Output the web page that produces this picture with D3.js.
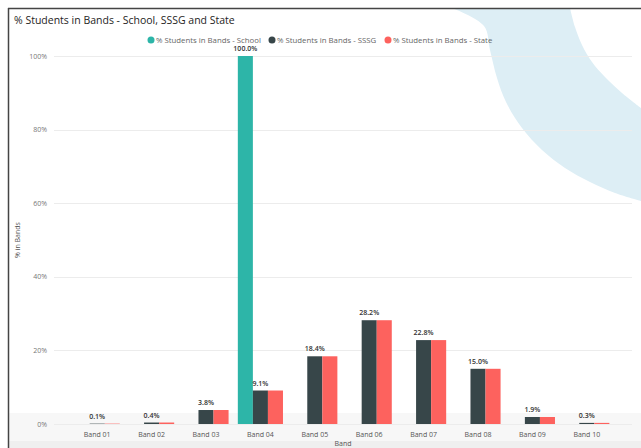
<!DOCTYPE html>
<html>
<head>
<meta charset="utf-8">
<script src="https://cdnjs.cloudflare.com/ajax/libs/d3/7.8.5/d3.min.js"></script>
<style>
    body { margin: 0; background: #fff; }
    svg { display: block; font-family: "Open Sans", "Noto Sans", sans-serif; }
</style>
</head>
<body>
<svg id="chart" width="641" height="448"></svg>
<script>

// Chart data
const bands = ["Band 01", "Band 02", "Band 03", "Band 04", "Band 05",
               "Band 06", "Band 07", "Band 08", "Band 09", "Band 10"];
const seriesNames = ["% Students in Bands - School", "% Students in Bands - SSSG", "% Students in Bands - State"];
const seriesColours = ["#2db5a8", "#374649", "#fd625e"];
const schoolValues = [0, 0, 0, 1.000, 0, 0, 0, 0, 0, 0];
const sssgValues = [0.001, 0.004, 0.038, 0.091, 0.184, 0.282, 0.228, 0.150, 0.019, 0.003];
const stateValues = [0.001, 0.004, 0.038, 0.091, 0.184, 0.282, 0.228, 0.150, 0.019, 0.003];
const yTicks = [0, 0.2, 0.4, 0.6, 0.8, 1.0];

const svg = d3.select("#chart");
const width = 641, height = 448;

// Background decoration (light blue sweep, top right)
const outerEdge = [[452, 8], [484, 26], [490, 50], [497, 78], [506, 102], [522, 128], [542, 150],
                   [565, 168], [590, 182], [615, 193], [641, 201]];
const innerEdge = [[641, 108], [622, 93], [605, 77], [592, 62], [582, 45], [575, 27], [570, 8]];
const edgeLine = d3.line().curve(d3.curveCatmullRom);
svg.append("path")
    .attr("d", edgeLine(outerEdge) + "L" + edgeLine(innerEdge).slice(1) + "Z")
    .attr("fill", "#ddeef5");

// Bottom strip
svg.append("rect").attr("x", 8).attr("y", 413).attr("width", width - 8).attr("height", 28).attr("fill", "#f7f7f7");
svg.append("rect").attr("x", 8).attr("y", 441).attr("width", width - 8).attr("height", 7).attr("fill", "#efefef");

// Frame
svg.append("line").attr("x1", 8).attr("x2", width).attr("y1", 8.5).attr("y2", 8.5)
    .attr("stroke", "#444").attr("stroke-width", 1.5);
svg.append("line").attr("x1", 8.5).attr("x2", 8.5).attr("y1", 8).attr("y2", height)
    .attr("stroke", "#444").attr("stroke-width", 1.5);

// Title
svg.append("text")
    .attr("x", 14).attr("y", 24)
    .attr("font-size", 10.5)
    .attr("fill", "#252423")
    .text("% Students in Bands - School, SSSG and State");

// Scales
const x = d3.scaleBand().domain(bands).range([70, 614]).paddingInner(0.17).paddingOuter(0.085);
const xSub = d3.scaleBand().domain(d3.range(3)).range([0, x.bandwidth()]);
const y = d3.scaleLinear().domain([0, 1]).range([424, 56]);

// Gridlines and y tick labels
const yAxis = svg.append("g");
yAxis.selectAll("line")
    .data(yTicks)
    .enter()
    .append("line")
    .attr("x1", 54).attr("x2", 632)
    .attr("y1", (d) => Math.round(y(d)) + 0.5)
    .attr("y2", (d) => Math.round(y(d)) + 0.5)
    .attr("stroke", "#ececec");
yAxis.selectAll("text")
    .data(yTicks)
    .enter()
    .append("text")
    .attr("x", 47)
    .attr("y", (d) => y(d) + 2.5)
    .attr("text-anchor", "end")
    .attr("font-size", 7)
    .attr("fill", "#777")
    .text(d3.format(".0%"));

svg.append("text")
    .attr("transform", "translate(20,240) rotate(-90)")
    .attr("text-anchor", "middle")
    .attr("font-size", 7)
    .attr("fill", "#555")
    .text("% in Bands");

// Bars
const allSeries = [schoolValues, sssgValues, stateValues];
const groups = svg.append("g")
    .selectAll("g")
    .data(bands)
    .enter()
    .append("g")
    .attr("transform", (d) => `translate(${x(d)},0)`);

groups.selectAll("rect")
    .data((d, i) => allSeries.map((s, k) => ({ k: k, v: s[i] })))
    .enter()
    .append("rect")
    .attr("x", (d) => xSub(d.k))
    .attr("width", xSub.bandwidth())
    .attr("y", (d) => y(d.v))
    .attr("height", (d) => y(0) - y(d.v))
    .attr("fill", (d) => seriesColours[d.k]);

// Data labels (school where present, SSSG always)
const fmt = d3.format(".1%");
groups.selectAll("text")
    .data((d, i) => {
        const labels = [{ k: 1, v: sssgValues[i] }];
        if (schoolValues[i] > 0) labels.push({ k: 0, v: schoolValues[i] });
        return labels;
    })
    .enter()
    .append("text")
    .attr("x", (d) => xSub(d.k) + xSub.bandwidth() / 2)
    .attr("y", (d) => y(d.v) - 5)
    .attr("text-anchor", "middle")
    .attr("font-size", 7)
    .attr("font-weight", 600)
    .attr("fill", "#333")
    .text((d) => fmt(d.v));

// X axis labels
svg.append("g")
    .selectAll("text")
    .data(bands)
    .enter()
    .append("text")
    .attr("x", (d) => x(d) + x.bandwidth() / 2)
    .attr("y", 437)
    .attr("text-anchor", "middle")
    .attr("font-size", 7)
    .attr("fill", "#555")
    .text((d) => d);

svg.append("text")
    .attr("x", 343).attr("y", 446)
    .attr("text-anchor", "middle")
    .attr("font-size", 7)
    .attr("fill", "#555")
    .text("Band");

// Legend
const legend = svg.append("g").attr("transform", "translate(151,40)");
const legendX = [0, 121, 237];
seriesNames.forEach((name, i) => {
    const item = legend.append("g").attr("transform", `translate(${legendX[i]},0)`);
    item.append("circle").attr("cx", 0).attr("cy", 0).attr("r", 3.5).attr("fill", seriesColours[i]);
    item.append("text")
        .attr("x", 5).attr("y", 2.5)
        .attr("font-size", 7.8)
        .attr("fill", "#666")
        .text(name);
});

</script>
</body>
</html>
